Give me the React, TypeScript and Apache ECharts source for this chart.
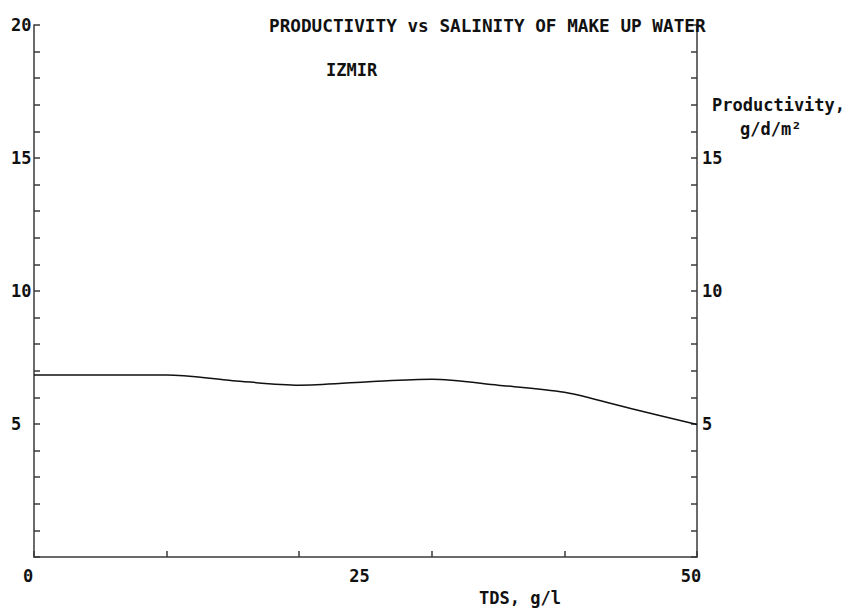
import React, { useEffect, useRef } from "react";
import * as echarts from "echarts";

const tds = [0, 5, 10, 15, 20, 25, 30, 35, 40, 45, 50];
const productivity = [6.84, 6.84, 6.84, 6.63, 6.46, 6.58, 6.68, 6.46, 6.19, 5.58, 4.98];
const xLabelValues = [0, 25, 50];
const leftLabelValues = [5, 10, 15, 20];
const rightLabelValues = [5, 10, 15];
const titleText = "PRODUCTIVITY vs SALINITY OF MAKE UP WATER";
const siteText = "IZMIR";
const yNameLines = ["Productivity,", "g/d/m²"];
const xNameText = "TDS, g/l";

const FONT = "'DejaVu Sans Mono', monospace";
const AXIS_COLOR = "#3a3a3a";

export default function App() {
  const ref = useRef<HTMLDivElement>(null);
  useEffect(() => {
    if (!ref.current) return;
    const chart = echarts.init(ref.current, null, { renderer: "svg" });
    const textBase = { fontFamily: FONT, fontWeight: "bold" as const, fontSize: 17, color: "#111" };
    const axisLine = { show: true, onZero: false, lineStyle: { color: AXIS_COLOR, width: 1.5 } };
    const axisTick = { show: true, inside: true, length: 6, lineStyle: { color: AXIS_COLOR, width: 1.5 } };
    chart.setOption({
      animation: false,
      backgroundColor: "#fff",
      grid: { left: 34, right: 154, top: 25, bottom: 53, containLabel: false },
      title: [
        { text: titleText, left: 264, top: 12, textStyle: { ...textBase, fontSize: 17.7 } },
        { text: siteText, left: 321, top: 56, textStyle: { ...textBase } },
      ],
      graphic: [
        { type: "text", left: 712, top: 96, style: { text: yNameLines[0], font: `bold 17px ${FONT}`, fill: "#111" } },
        { type: "text", left: 740, top: 120, style: { text: yNameLines[1], font: `bold 17px ${FONT}`, fill: "#111" } },
        { type: "text", left: 479, top: 589, style: { text: xNameText, font: `bold 17px ${FONT}`, fill: "#111" } },
      ],
      xAxis: [
        {
          type: "value",
          min: 0,
          max: 50,
          interval: 10,
          position: "bottom",
          axisLine,
          axisTick,
          axisLabel: { show: false },
          splitLine: { show: false },
        },
        {
          type: "value",
          min: 0,
          max: 50,
          interval: 25,
          position: "bottom",
          axisLine: { show: false, onZero: false },
          axisTick: { show: false },
          axisLabel: {
            show: true,
            margin: 10,
            ...textBase,
            padding: [0, 12, 0, 0],
            formatter: (v: number) => (xLabelValues.includes(v) ? String(v) : ""),
          },
          splitLine: { show: false },
        },
      ],
      yAxis: [
        {
          type: "value",
          min: 0,
          max: 20,
          interval: 1,
          position: "left",
          axisLine,
          axisTick,
          axisLabel: {
            show: true,
            margin: 23,
            align: "left",
            ...textBase,
            formatter: (v: number) => (leftLabelValues.includes(v) ? String(v) : ""),
          },
          splitLine: { show: false },
        },
        {
          type: "value",
          min: 0,
          max: 20,
          interval: 1,
          position: "right",
          axisLine,
          axisTick,
          axisLabel: {
            show: true,
            margin: 5,
            ...textBase,
            formatter: (v: number) => (rightLabelValues.includes(v) ? String(v) : ""),
          },
          splitLine: { show: false },
        },
      ],
      series: [
        {
          type: "line",
          xAxisIndex: 0,
          yAxisIndex: 0,
          data: tds.map((x, i) => [x, productivity[i]]),
          smooth: 0.3,
          showSymbol: false,
          symbol: "none",
          lineStyle: { color: "#111", width: 1.5 },
        },
      ],
    });
    return () => chart.dispose();
  }, []);
  return <div ref={ref} style={{ width: 851, height: 610, position: "absolute", left: 0, top: 0 }} />;
}
